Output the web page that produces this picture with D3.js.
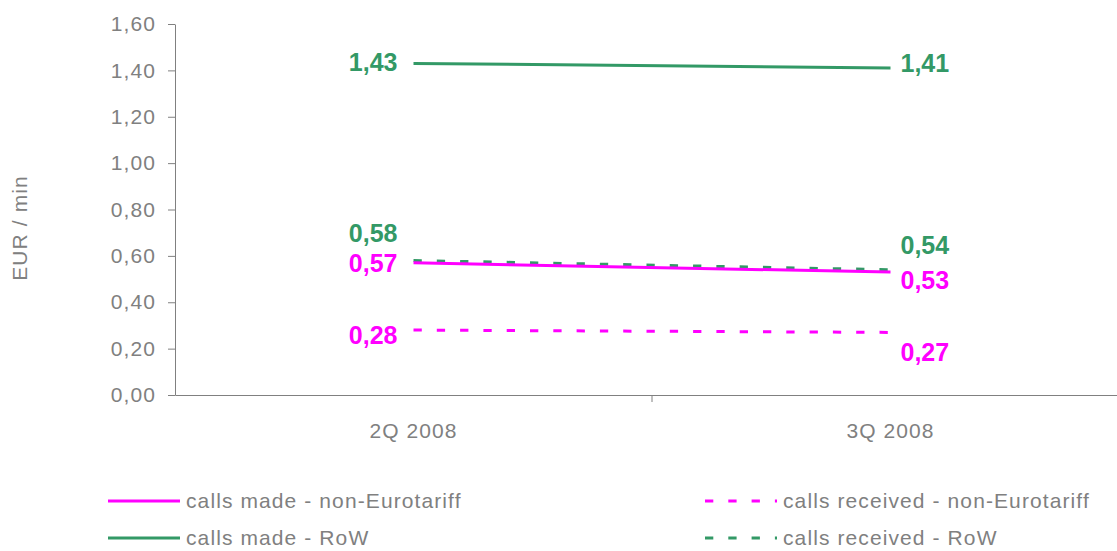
<!DOCTYPE html>
<html>
<head>
<meta charset="utf-8">
<script src="https://cdn.jsdelivr.net/npm/d3@7"></script>
<style>
  body { margin: 0; background: #fff; }
  text { font-family: "Liberation Sans", Arial, sans-serif; }
  .lbl { font-size: 21px; letter-spacing: 1.1px; fill: #808080; }
</style>
</head>
<body>
<svg id="chart"></svg>
<script>
const quarters = ["2Q 2008", "3Q 2008"];
const yTicks = [0, 0.2, 0.4, 0.6, 0.8, 1.0, 1.2, 1.4, 1.6];
const seriesNames = [
  "calls made - non-Eurotariff",
  "calls received - non-Eurotariff",
  "calls made - RoW",
  "calls received - RoW"
];
const madeNonEuro = [0.57, 0.53];
const receivedNonEuro = [0.28, 0.27];
const madeRow = [1.43, 1.41];
const receivedRow = [0.58, 0.54];

const width = 1117;
const height = 551;
const margin = { top: 24, left: 175, bottom: 156, right: 0 };

const magenta = "#ff00ff";
const green = "#339966";
const grey = "#808080";

// styling per series (colour, dash, label shift left/right)
const styles = [
  { values: madeNonEuro, color: magenta, dash: null, dyL: 0, dyR: 8 },
  { values: receivedNonEuro, color: magenta, dash: "8.3,15", dyL: 5, dyR: 20 },
  { values: madeRow, color: green, dash: null, dyL: -1, dyR: -5 },
  { values: receivedRow, color: green, dash: "8.3,15", dyL: -27, dyR: -25 }
];

const fmt = v => d3.format(".2f")(v).replace(".", ",");

const svg = d3.select("#chart")
  .attr("width", width)
  .attr("height", height);

const x = d3.scaleBand()
  .domain(quarters)
  .range([margin.left, margin.left + 954]);

const y = d3.scaleLinear()
  .domain([0, 1.6])
  .range([height - margin.bottom, margin.top]);

// y axis
const yAxis = svg.append("g")
  .attr("transform", `translate(${margin.left},0)`)
  .call(d3.axisLeft(y).tickValues(yTicks).tickFormat(fmt).tickSize(7).tickPadding(12).tickSizeOuter(0));
yAxis.select(".domain").attr("stroke", grey);
yAxis.selectAll(".tick line").attr("stroke", grey);
yAxis.selectAll("text").attr("class", "lbl").attr("fill", null);

// x axis
const xAxis = svg.append("g")
  .attr("transform", `translate(0,${y(0)})`)
  .call(d3.axisBottom(x).tickSize(0).tickPadding(28).tickSizeOuter(0));
xAxis.select(".domain").attr("stroke", grey);
xAxis.selectAll("text").attr("class", "lbl").attr("fill", null);
// tick marks between categories
xAxis.selectAll(".sep")
  .data(quarters.slice(1))
  .enter()
  .append("line")
    .attr("x1", d => x(d))
    .attr("x2", d => x(d))
    .attr("y1", 0)
    .attr("y2", 7)
    .attr("stroke", grey);

// axis title
svg.append("text")
  .attr("class", "lbl")
  .attr("transform", `translate(20,228) rotate(-90)`)
  .attr("dy", "0.35em")
  .attr("text-anchor", "middle")
  .text("EUR / min");

const cx = d => x(d) + x.bandwidth() / 2;

const line = d3.line()
  .x((d, i) => cx(quarters[i]))
  .y(d => y(d));

// draw lines (dashed first so solid sits on top)
[3, 1, 2, 0].forEach(i => {
  const s = styles[i];
  svg.append("path")
    .datum(s.values)
    .attr("d", line)
    .attr("fill", "none")
    .attr("stroke", s.color)
    .attr("stroke-width", 3)
    .attr("stroke-dasharray", s.dash);
});

// data labels
styles.forEach(s => {
  svg.append("text")
    .attr("x", cx(quarters[0]) - 16)
    .attr("y", y(s.values[0]) + s.dyL)
    .attr("dy", "0.35em")
    .attr("text-anchor", "end")
    .attr("fill", s.color)
    .style("font-size", "25px")
    .style("font-weight", "bold")
    .text(fmt(s.values[0]));
  svg.append("text")
    .attr("x", cx(quarters[1]) + 10)
    .attr("y", y(s.values[1]) + s.dyR)
    .attr("dy", "0.35em")
    .attr("text-anchor", "start")
    .attr("fill", s.color)
    .style("font-size", "25px")
    .style("font-weight", "bold")
    .text(fmt(s.values[1]));
});

// legend
const legendPos = [
  { x: 108, y: 501 },
  { x: 705, y: 501 },
  { x: 108, y: 538 },
  { x: 705, y: 538 }
];
seriesNames.forEach((name, i) => {
  const s = styles[i];
  const p = legendPos[i];
  svg.append("line")
    .attr("x1", p.x)
    .attr("x2", p.x + 72)
    .attr("y1", p.y)
    .attr("y2", p.y)
    .attr("stroke", s.color)
    .attr("stroke-width", 3)
    .attr("stroke-dasharray", s.dash);
  svg.append("text")
    .attr("class", "lbl")
    .attr("x", p.x + 78)
    .attr("y", p.y)
    .attr("dy", "0.35em")
    .text(name);
});
</script>
</body>
</html>
